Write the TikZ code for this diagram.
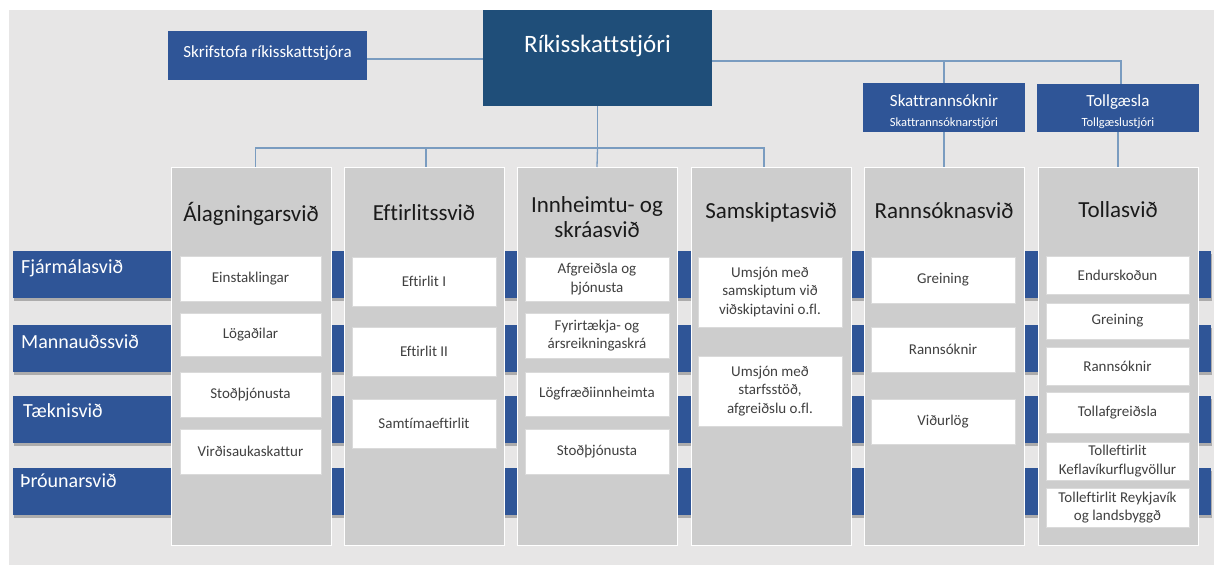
\documentclass[tikz,border=0pt]{standalone}
\usepackage{fontspec}
\setmainfont{Carlito}[Ligatures={NoCommon}]
\usetikzlibrary{shadows}
\definecolor{bgc}{HTML}{E7E6E6}
\definecolor{navy}{HTML}{1F4E79}
\definecolor{mblue}{HTML}{2F5597}
\definecolor{colgray}{HTML}{CDCDCD}
\definecolor{boxedge}{HTML}{DADADA}
\definecolor{connc}{HTML}{7A9CC0}
\definecolor{txt}{HTML}{404040}
\definecolor{hdrtxt}{HTML}{1A1A1A}
\tikzset{
  rect/.style={inner sep=0pt, outer sep=0pt, anchor=north west},
  navybox/.style={rect, fill=navy},
  bluebox/.style={rect, fill=mblue},
  bar/.style={rect, fill=mblue, minimum width=1198pt, minimum height=47pt,
    drop shadow={shadow xshift=1pt, shadow yshift=-3pt, fill=black, opacity=0.25}},
  bartext/.style={anchor=base west, inner sep=0pt, text=white, font=\fontsize{20}{24}\selectfont},
  col/.style={rect, fill=colgray, draw=white, line width=0.8pt, minimum width=160pt, minimum height=378pt},
  unit/.style={rect, fill=white, draw=boxedge, line width=0.6pt, text=txt, align=center,
    font=\fontsize{15}{18.5}\selectfont},
  hdr/.style={inner sep=0pt, text=hdrtxt, align=center, font=\fontsize{23}{25}\selectfont},
  wtext/.style={inner sep=0pt, text=white, anchor=base},
  conn/.style={draw=connc, line width=1.3pt},
}
\begin{document}
\begin{tikzpicture}[x=1pt,y=-1pt]
\useasboundingbox (0,0) rectangle (1214,565);
\fill[bgc] (9,10) rectangle (1214,565);

% horizontal support bars
\node[bar] (fin) at (13,251) {};
\node[bar] (mann) at (13,325) {};
\node[bar] (taek) at (13,396) {};
\node[bar] (thro) at (13,468) {};
\node[bartext] (fin-t) at (21,273) {Fjármálasvið};
\node[bartext] (mann-t) at (21,348) {Mannauðssvið};
\node[bartext] (taek-t) at (23,417) {Tæknisvið};
\node[bartext] (thro-t) at (20,487) {Þróunarsvið};

% columns
\node[col] (c1) at (171,167) {};
\node[col] (c2) at (344,167) {};
\node[col] (c3) at (517,167) {};
\node[col] (c4) at (691,167) {};
\node[col] (c5) at (864,167) {};
\node[col] (c6) at (1038,167) {};

\node[hdr, anchor=base] (h1) at (251,221) {Álagningarsvið};
\node[hdr, anchor=base] (h2) at (424,220) {Eftirlitssvið};
\node[hdr, anchor=center] (h3) at (597,217) {Innheimtu- og\\skráasvið};
\node[hdr, anchor=base] (h4) at (771,218) {Samskiptasvið};
\node[hdr, anchor=base] (h5) at (944,218) {Rannsóknasvið};
\node[hdr, anchor=base] (h6) at (1118,217) {Tollasvið};

% column 1
\node[unit, minimum width=141pt, minimum height=45pt] (u11) at (180,256) {Einstaklingar};
\node[unit, minimum width=141pt, minimum height=43pt] (u12) at (180,313) {Lögaðilar};
\node[unit, minimum width=141pt, minimum height=45pt] (u13) at (180,372) {Stoðþjónusta};
\node[unit, minimum width=141pt, minimum height=45pt] (u14) at (180,429) {Virðisaukaskattur};
% column 2
\node[unit, minimum width=144pt, minimum height=49pt] (u21) at (352,257) {Eftirlit I};
\node[unit, minimum width=144pt, minimum height=49pt] (u22) at (352,327) {Eftirlit II};
\node[unit, minimum width=144pt, minimum height=49pt] (u23) at (352,399) {Samtímaeftirlit};
% column 3
\node[unit, minimum width=144pt, minimum height=44pt] (u31) at (525,257) {Afgreiðsla og\\þjónusta};
\node[unit, minimum width=144pt, minimum height=45pt] (u32) at (525,313) {Fyrirtækja- og\\ársreikningaskrá};
\node[unit, minimum width=144pt, minimum height=44pt] (u33) at (525,372) {Lögfræðiinnheimta};
\node[unit, minimum width=144pt, minimum height=45pt] (u34) at (525,429) {Stoðþjónusta};
% column 4
\node[unit, minimum width=144pt, minimum height=70pt] (u41) at (698,257) {Umsjón með\\samskiptum við\\viðskiptavini o.fl.};
\node[unit, minimum width=144pt, minimum height=70pt] (u42) at (698,356) {Umsjón með\\starfsstöð,\\afgreiðslu o.fl.};
% column 5
\node[unit, minimum width=144pt, minimum height=46pt] (u51) at (871,257) {Greining};
\node[unit, minimum width=144pt, minimum height=45pt] (u52) at (871,327) {Rannsóknir};
\node[unit, minimum width=144pt, minimum height=45pt] (u53) at (871,399) {Viðurlög};
% column 6
\node[unit, minimum width=143pt, minimum height=38pt] (u61) at (1046,256) {Endurskoðun};
\node[unit, minimum width=143pt, minimum height=36pt] (u62) at (1046,303) {Greining};
\node[unit, minimum width=143pt, minimum height=38pt] (u63) at (1046,347) {Rannsóknir};
\node[unit, minimum width=143pt, minimum height=41pt] (u64) at (1046,392) {Tollafgreiðsla};
\node[unit, minimum width=143pt, minimum height=38pt] (u65) at (1046,442) {Tolleftirlit\\Keflavíkurflugvöllur};
\node[unit, minimum width=143pt, minimum height=39pt] (u66) at (1046,488) {Tolleftirlit Reykjavík\\og landsbyggð};

% top boxes
\node[bluebox, minimum width=199pt, minimum height=49pt] (skr) at (168,31) {};
\node[navybox, minimum width=229pt, minimum height=96pt] (rsk) at (483,10) {};
\node[bluebox, minimum width=162pt, minimum height=49pt] (skatt) at (863,83) {};
\node[bluebox, minimum width=162pt, minimum height=48pt] (toll) at (1037,84) {};

\node[wtext, font=\fontsize{17}{20}\selectfont] (skr-t) at (267.5,57) {Skrifstofa ríkisskattstjóra};
\node[wtext, font=\fontsize{25}{30}\selectfont] (rsk-t) at (597.5,52) {Ríkisskattstjóri};
\node[wtext, font=\fontsize{17}{20}\selectfont] (skatt-t) at (944,106) {Skattrannsóknir};
\node[wtext, font=\fontsize{12.5}{15}\selectfont] (skatt-s) at (944,126) {Skattrannsóknarstjóri};
\node[wtext, font=\fontsize{17}{20}\selectfont] (toll-t) at (1118,106) {Tollgæsla};
\node[wtext, font=\fontsize{12.5}{15}\selectfont] (toll-s) at (1118,126) {Tollgæslustjóri};

% connectors
\draw[conn] ([yshift=-3.5pt]skr.east) -- ([yshift=-3.5pt]skr.east -| rsk.west);
\draw[conn] ([yshift=-3pt]rsk.east) -| ([xshift=3pt]toll.north);
\draw[conn] (skatt.north) -- (skatt.north |- 0,61);
\coordinate (hub) at (597.5,148);
\draw[conn] (rsk.south) -- (hub);
\draw[conn] (hub) -| ([xshift=4.5pt]c1.north);
\draw[conn] (hub) -| ([xshift=2pt]c2.north);
\draw[conn] (hub) -- (c3.north);
\draw[conn] (hub) -| ([xshift=-7pt]c4.north);
\draw[conn] (skatt.south) -- (c5.north);
\draw[conn] (toll.south) -- (c6.north);
\end{tikzpicture}
\end{document}
